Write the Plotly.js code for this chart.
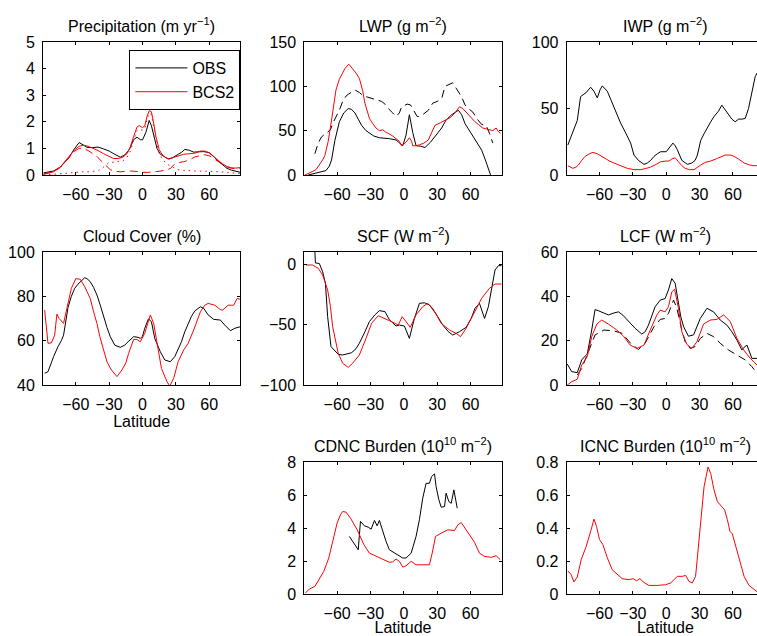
<!DOCTYPE html>
<html>
<head>
<meta charset="utf-8">
<script src="https://cdn.plot.ly/plotly-3.0.1.min.js"></script>
<style>html,body{margin:0;padding:0;overflow:hidden;background:#fff;}#chart{width:770px;height:636px;}</style>
</head>
<body>
<div id="chart"></div>
<script>
// ---------------- DATA ----------------
var latTicks = [-60, -30, 0, 30, 60];

// Precipitation (m/yr)
var precipObsLat = [-89,-80,-74,-67,-61,-57,-53,-50,-45,-40,-35,-30,-25,-20,-16,-12,-8,-5,-2,0,3,6,8,10,13,16,19,23,27,31,35,38,42,46,50,55,60,64,68,72,76,80,84,88];
var precipObs    = [0.08,0.15,0.3,0.6,1.0,1.22,1.12,1.04,1.03,1.05,0.98,0.9,0.78,0.67,0.75,0.95,1.33,1.42,1.33,1.32,1.6,2.05,1.85,1.5,1.0,0.78,0.7,0.6,0.65,0.75,0.85,0.96,0.93,0.86,0.87,0.88,0.84,0.7,0.52,0.37,0.25,0.18,0.13,0.1];
var precipModLat = [-89,-80,-74,-67,-61,-57,-53,-49,-45,-40,-35,-30,-26,-22,-18,-14,-11,-8,-5,-3,0,2,4,6,8,10,12,15,18,21,24,28,32,37,42,47,52,56,60,64,68,72,76,80,84,88];
var precipMod    = [0.03,0.12,0.3,0.65,0.95,1.08,1.12,1.08,1.02,0.92,0.8,0.7,0.62,0.62,0.66,0.8,1.05,1.45,1.8,1.86,1.78,1.85,2.2,2.42,2.38,1.95,1.45,0.95,0.75,0.65,0.6,0.66,0.72,0.78,0.8,0.82,0.9,0.9,0.83,0.68,0.55,0.42,0.32,0.27,0.26,0.28];
var precipLsLat  = [-89,-80,-74,-67,-61,-57,-53,-49,-45,-41,-37,-33,-29,-25,-20,-15,-10,-5,0,5,10,15,20,25,28,32,37,42,47,52,56,60,64,68,72,76,80,84,88];
var precipLs     = [0.03,0.12,0.28,0.62,0.9,1.0,1.0,0.92,0.8,0.7,0.52,0.35,0.2,0.14,0.12,0.14,0.15,0.13,0.1,0.1,0.11,0.14,0.18,0.24,0.38,0.46,0.5,0.56,0.68,0.74,0.76,0.72,0.62,0.5,0.4,0.3,0.25,0.24,0.26];
var precipCvLat  = [-89,-80,-74,-67,-61,-57,-53,-49,-45,-40,-35,-30,-26,-22,-18,-14,-11,-8,-5,-3,0,2,4,6,8,10,12,15,18,21,24,28,32,37,42,52,60,70,80,88];
var precipCv     = [0.0,0.02,0.04,0.07,0.1,0.12,0.12,0.12,0.13,0.16,0.3,0.47,0.48,0.5,0.52,0.66,0.9,1.3,1.67,1.72,1.68,1.75,2.1,2.32,2.27,1.84,1.32,0.81,0.58,0.45,0.36,0.28,0.2,0.17,0.16,0.16,0.15,0.12,0.08,0.05];

// LWP (g m-2)
var lwpObsLat = [-86,-80,-75,-70,-67,-65,-62,-58,-54,-50,-47,-44,-41,-38,-34,-31,-27,-22,-17,-13,-7,-4,-1,2,5,8,11,15,19,24,29,34,38,43,49,52,55,59,62,66,70,73,75,77,78];
var lwpObs    = [0,2,3.5,5,10,17,39,60,70,75,74,70,63,56,50,47,44,42,41.5,41,39.5,36,33,45,68,48,33,32.5,31,37,45,53,62,68,73,68,58,50,45,37,28,18,10,2,0];
var lwpModLat = [-89,-85,-82,-79,-76,-73,-71,-68,-65,-61,-58,-56,-53,-49.5,-46,-43,-40,-37,-35,-33,-31,-28,-25,-22,-19,-16,-14,-10,-7,-4,-2,0,2,5,7,8,11,14,18,22,25,28,33,38,42,46,50,53,56,60,64,67,71,74,77,80,83,85,87];
var lwpMod    = [0,2,4,6,11,17,22,38,62,96,108,113,120,125,120,115,109,95,81,72,64,58,53,50,51,48,47,44,41,38,33,35,37,42,38,33,33,34,36,39.5,48,56,59,62,65,70,77,75,71,65,60,57,53,52,51,50,53,49,47];
var lwpAltLat = [-80,-77,-74,-70,-66,-64,-61,-58,-55,-52,-50,-47,-44,-40,-37,-33,-28,-24,-20,-17,-14,-10,-7,-4,-2,0,3,6,9,12,14,18,22,26,30,34,37,40,44,47,50,52,55,58,62,66,70,74,77,80];
var lwpAlt    = [24,36,43,47,51,58,65,73,83,89,91,94,96,93,90,88,86,85,83,80,75,70,66,70,77,78,80,79,72,66,66,69,73,81,83,86,100,102,104,98,92,88,79,75,71,63,57,56,47,36];

// IWP (g m-2)
var iwpObsLat = [-88.5,-84,-80,-77,-72,-68,-65,-62,-59.5,-57.5,-53,-50,-47,-44,-41,-37,-32,-29,-25,-20,-17,-14,-11,-8,-5,0,2.5,6,8,10,14,19,23,26,28,31,34,37,40,43,47,50,53,56,59,62,65,68,71,74,76,78,80,82,85,88];
var iwpObs    = [22.5,32.5,41,59,62,66,63,58,64,67,63,57,51,45,39,32.5,24,15,11,8,9,11,14,16,17.5,17.5,20,24,22,19,11,8,9,11,15,26,31,36,40,44,48,52.5,49,45,42,40,42,42,42.5,50,57.5,66,74,77,80,82];
var iwpModLat = [-88.5,-86,-84,-81,-79,-76,-73,-69,-66,-62,-59,-56,-51,-47,-41,-35,-29,-23,-18,-14,-9,-5,0,2.5,5,8,11,14,17,21,25,28,31,35,40,46,50,53,58,61,65,70,75,79,85,88];
var iwpMod    = [7,6,5,6,7.5,11,14,16,17,16,14.5,12.5,10.5,9,7,5,4,4,5,6,8,10,10.5,10.5,12,13,10,7,5,4,4,6,7.5,9.5,10.5,12.5,14,15,15,14,12,9,7.5,7,7,7];

// Cloud cover (%)
var ccObsLat = [-88,-85,-82,-80,-76,-73,-71,-69,-67,-64,-61,-58,-56,-52,-50,-47,-44,-41,-38,-35,-32,-29,-25,-20,-16,-13,-8,-4,-2,0,2,5.3,8,11,14,16,20,25,29,32,35,38,41,44,47,52,55,59,64,70,74,79,83,88];
var ccObs    = [45.3,46,50,52.8,57.3,60,62.5,68,75,80,83.6,85.5,86.6,88.4,88,86.6,84,80.6,76,70.8,66,61.8,58,57,58,59.5,61.8,61.5,61,62,65.6,69.8,68.6,61,57,55,51.3,50.5,52.8,56,59.5,64,67.8,71,73.4,75.3,74.6,71.6,69.6,69.3,67,64.5,65.6,66.3];
var ccModLat = [-88,-86.5,-85,-82,-79,-77,-75,-71,-69,-67,-64,-60,-56,-52,-50,-47,-44,-41,-38.5,-36.5,-32,-28,-23,-18.5,-15,-12.5,-8,-5,-2,2,5,7,10,13,17,22,24.5,28,32,37,41,46,52,56,59,65,70,72,77,80,82,85,89];
var ccMod    = [73.8,66,58.8,59,62.5,72,70,67.8,72,77.6,83.6,88,87.7,84.4,82,79,73,67.8,62,58.8,50.5,46.8,43.8,46.8,50,54.3,60.6,60.5,59.5,63.3,68,71.6,67.8,58.8,47.5,41.5,39.5,43,50.5,55.8,58.8,64.8,73,76,76.8,76,74,73.8,76,76,76,79,78.6];

// SCF (W m-2)
var scfObsLat = [-80.5,-79.5,-76,-73,-70.5,-68.5,-65.5,-62,-59,-55,-51,-47,-43,-40,-35,-31,-26,-22,-17,-13,-7,-4,0.5,5,9.5,14,18.5,23,29,35,40,44,50,56,60.6,64,68,72.6,76,79,82,85,88];
var scfObs    = [20,1,0.5,-6.3,-16,-43.5,-68.3,-72,-74.6,-75.2,-74.5,-73.3,-70,-65.5,-56,-47.6,-42,-38.5,-39.3,-46,-51.2,-50.4,-51.2,-61.4,-44.9,-32.5,-32,-33.8,-41.3,-50.4,-55.9,-58.7,-55.9,-52.3,-44.9,-36.6,-32.5,-44.9,-35.3,-21.4,-4.9,-1.3,-1.3];
var scfModLat = [-88,-82,-77,-73,-68.5,-66,-64,-61,-59,-55,-50,-46,-40,-34,-29,-23,-17,-11,-5,-1.5,2,5.7,11,17,21.5,26,33.6,41,47,51,56,62,70,77,82,88];
var scfMod    = [-0.75,-0.75,-3.5,-9,-21.4,-35,-51.8,-65,-73.8,-82,-85.4,-82,-75.2,-61.4,-49,-42.7,-44.9,-47.6,-50.4,-43.5,-47.6,-52.3,-42,-35.2,-32.5,-36.6,-49,-54.5,-57.3,-60,-53.1,-42,-28.3,-20,-16.5,-16.5];

// LCF (W m-2)
var lcfObsLat = [-89,-85,-80,-76,-73,-71,-67,-64,-61,-59,-55,-52,-47,-43,-39,-35,-28,-22,-19,-16,-10,-5.4,-1,2,5,8,11,13,15.6,20,24.6,30.6,36.6,42.6,48.6,54.6,59,63.6,68,70,72.6,75,77,81.6,85,88];
var lcfObs    = [9.5,6,5.6,11.3,13,14,24.8,34,33.5,33,32,31.6,32.5,33,31.5,29.3,25.6,23,24,27,35.3,38.3,39,42.9,48,45.9,37.6,31,26.3,22,22.6,30,34.6,33,29.3,27,24,20.3,15.8,17,18,15,12,12,11,10];
var lcfModLat = [-89,-85,-80,-76,-71,-67,-62.4,-58,-52,-44.4,-38.4,-32.4,-26.4,-20,-14.4,-8.4,-5.4,-1,2,5,7.5,11,14,18.6,23,27.6,33.6,39.6,45.6,51.6,57.6,63.6,69.6,75.6,81.6,85,88];
var lcfMod    = [0,1.5,2.6,9,12.8,21.8,27.5,29.3,27.5,24.8,22,18,16.5,18,24.8,31.6,33.8,33,35.3,42,43.2,34.6,24,18.3,16.5,19.5,27.5,29.3,29.6,31.6,28.6,21,15.8,12,9,8,7];
var lcfAltLat = [-80,-76,-70,-64,-56,-47,-39.6,-32,-25,-19,-11,-5.4,-1,2,6.6,9.6,14,17,21.6,26,30.6,36.6,42.6,48.6,56,63.6,71,77,81.6,85,88];
var lcfAlt    = [4.5,7.5,15,22.6,24.8,24.4,23.3,18.8,16,18.8,26.3,29.6,30,32.3,38.3,34.6,24.8,19.5,16.5,17.3,21,23.3,21.8,18.8,15.8,13.5,11.3,8.3,5.3,4,3];

// CDNC burden (1e10 m-2)
var cdncObsLat = [-49,-45,-42,-41,-39,-35.4,-32,-29.4,-26.4,-24,-22,-19,-16,-13,-8.4,-4,-1,2,6.6,11,14,17,20,23,25,27.6,29,31.5,33.6,36.6,38,40.5,42.6,45,47,48];
var cdncObs    = [3.49,3.1,2.78,2.68,4.4,4.13,4.05,3.93,4.46,4.13,4.46,3.79,3.19,2.68,2.48,2.32,2.18,2.18,2.48,3.49,4.5,5.81,6.71,6.71,7.12,7.28,6.51,5.71,5.26,5.3,6.11,5.6,5.5,6.31,5.5,5.2];
var cdncModLat = [-88.5,-85,-80,-77,-72,-67.5,-63,-60,-57,-55,-52,-48,-42,-36,-31,-25,-19,-13,-10,-7,-4,-1,2,6.6,11,17,23,25.5,28.5,33.6,39.6,45.6,48.6,51.6,57.6,63.6,68,72.6,78.6,83,86.7];
var cdncMod    = [0.06,0.3,0.46,0.77,1.37,2.18,3.4,4.3,4.8,5.0,4.96,4.6,3.9,3.0,2.48,2.28,2.08,1.92,1.95,2.12,1.98,1.63,1.71,1.98,1.77,1.79,1.77,2.48,3.49,3.69,3.89,3.85,4.19,4.33,3.69,3.13,2.48,2.28,2.22,2.32,2.08];

// ICNC burden (1e10 m-2)
var icncModLat = [-88.5,-85.5,-83,-80,-76.5,-72,-67.5,-65,-62.7,-60,-57,-53,-48.6,-44,-39.6,-33.6,-29.7,-26.7,-23.7,-20,-15.6,-8,-0.6,4,7,10,14.4,17.4,20.4,23.4,26.4,30,34,37.6,40,43,46,50.4,52.5,55,57.3,59.4,62.4,66.3,70,74.4,79,82,85,88];
var icncMod    = [0.14,0.117,0.073,0.103,0.208,0.288,0.39,0.454,0.41,0.33,0.3,0.22,0.147,0.117,0.093,0.087,0.093,0.08,0.093,0.07,0.052,0.052,0.056,0.067,0.087,0.107,0.107,0.113,0.077,0.067,0.107,0.35,0.65,0.77,0.73,0.63,0.56,0.526,0.51,0.45,0.38,0.365,0.29,0.21,0.107,0.052,0.026,0.012,0.006,0.004];

// ---------------- LAYOUT ----------------
var W = 770, H = 636;
var FONT = 'Liberation Sans, Arial, Helvetica, sans-serif';
var FS = 16;
var colX = [[43, 240.4], [304.3, 501.7], [566.7, 764.1]];
var rowY = [[42, 175], [252, 385], [462, 594]];
function xd(c){ return [colX[c][0]/W, colX[c][1]/W]; }
function yd(r){ return [1 - rowY[r][1]/H, 1 - rowY[r][0]/H]; }

var panels = [
  {title:'Precipitation (m yr<sup>−1</sup>)', r:0, c:0, yr:[0,5], yt:[0,1,2,3,4,5], xl:false},
  {title:'LWP (g m<sup>−2</sup>)', r:0, c:1, yr:[0,150], yt:[0,50,100,150], xl:false},
  {title:'IWP (g m<sup>−2</sup>)', r:0, c:2, yr:[0,100], yt:[0,50,100], xl:false},
  {title:'Cloud Cover (%)', r:1, c:0, yr:[40,100], yt:[40,60,80,100], xl:true},
  {title:'SCF (W m<sup>−2</sup>)', r:1, c:1, yr:[-100,10], yt:[-100,-50,0], xl:false},
  {title:'LCF (W m<sup>−2</sup>)', r:1, c:2, yr:[0,60], yt:[0,20,40,60], xl:false},
  {title:'CDNC Burden (10<sup>10</sup> m<sup>−2</sup>)', r:2, c:1, yr:[0,8], yt:[0,2,4,6,8], xl:true},
  {title:'ICNC Burden (10<sup>10</sup> m<sup>−2</sup>)', r:2, c:2, yr:[0,0.8], yt:[0,0.2,0.4,0.6,0.8], xl:true}
];

var layout = {
  width: W, height: H,
  margin: {l:0, r:0, t:0, b:0, autoexpand:false},
  paper_bgcolor: '#fff', plot_bgcolor: '#fff',
  font: {family: FONT, size: FS, color: '#000'},
  showlegend: true,
  legend: {
    x: colX[0][1]/W, xanchor: 'right', y: 1 - 50/H, yanchor: 'top',
    bordercolor: '#000', borderwidth: 1, bgcolor: '#fff',
    font: {family: FONT, size: FS, color: '#000'},
    tracegroupgap: 0, itemwidth: 52
  },
  annotations: []
};

panels.forEach(function(p, i){
  var n = i + 1;
  var xa = {
    domain: xd(p.c), range: [-89.5, 88], anchor: 'y' + n,
    tickmode: 'array', tickvals: latTicks,
    ticks: 'inside', ticklen: 3, tickcolor: '#000', tickwidth: 1,
    showline: true, linecolor: '#000', linewidth: 1, mirror: 'ticks',
    showgrid: false, zeroline: false,
    tickfont: {family: FONT, size: FS, color: '#000'},
    ticklabelstandoff: 5
  };
  if (p.xl) xa.title = {text: 'Latitude', font: {family: FONT, size: FS, color: '#000'}, standoff: 2};
  var ya = {
    domain: yd(p.r), range: p.yr, anchor: 'x' + n,
    tickmode: 'array', tickvals: p.yt,
    ticks: 'inside', ticklen: 3, tickcolor: '#000', tickwidth: 1,
    showline: true, linecolor: '#000', linewidth: 1, mirror: 'ticks',
    showgrid: false, zeroline: false,
    tickfont: {family: FONT, size: FS, color: '#000'},
    ticklabelstandoff: 4
  };
  layout['xaxis' + (n === 1 ? '' : n)] = xa;
  layout['yaxis' + (n === 1 ? '' : n)] = ya;
  var d = xd(p.c);
  layout.annotations.push({
    text: p.title, xref: 'paper', yref: 'paper',
    x: (d[0] + d[1]) / 2, y: yd(p.r)[1], xanchor: 'center', yanchor: 'bottom',
    yshift: 5, showarrow: false, font: {family: FONT, size: FS, color: '#000'}
  });
});

function tr(x, y, n, color, dash, name, legend){
  return {
    type: 'scatter', mode: 'lines', x: x, y: y,
    xaxis: 'x' + (n === 1 ? '' : n), yaxis: 'y' + (n === 1 ? '' : n),
    line: {color: color, width: 1, dash: dash || 'solid'},
    name: name || '', showlegend: !!legend, hoverinfo: 'skip'
  };
}
var K = '#000000', R = '#ff0000';
var DASH = '8px,5px', DOT = '1.5px,4px';
var data = [
  tr(precipObsLat, precipObs, 1, K, 'solid', 'OBS', true),
  tr(precipModLat, precipMod, 1, R, 'solid', 'BCS2', true),
  tr(precipLsLat, precipLs, 1, R, DASH),
  tr(precipCvLat, precipCv, 1, R, DOT),
  tr(lwpAltLat, lwpAlt, 2, K, DASH),
  tr(lwpObsLat, lwpObs, 2, K),
  tr(lwpModLat, lwpMod, 2, R),
  tr(iwpObsLat, iwpObs, 3, K),
  tr(iwpModLat, iwpMod, 3, R),
  tr(ccObsLat, ccObs, 4, K),
  tr(ccModLat, ccMod, 4, R),
  tr(scfObsLat, scfObs, 5, K),
  tr(scfModLat, scfMod, 5, R),
  tr(lcfAltLat, lcfAlt, 6, K, DASH),
  tr(lcfObsLat, lcfObs, 6, K),
  tr(lcfModLat, lcfMod, 6, R),
  tr(cdncObsLat, cdncObs, 7, K),
  tr(cdncModLat, cdncMod, 7, R),
  tr(icncModLat, icncMod, 8, R)
];

Plotly.newPlot('chart', data, layout, {staticPlot: true, displayModeBar: false});
</script>
</body>
</html>
